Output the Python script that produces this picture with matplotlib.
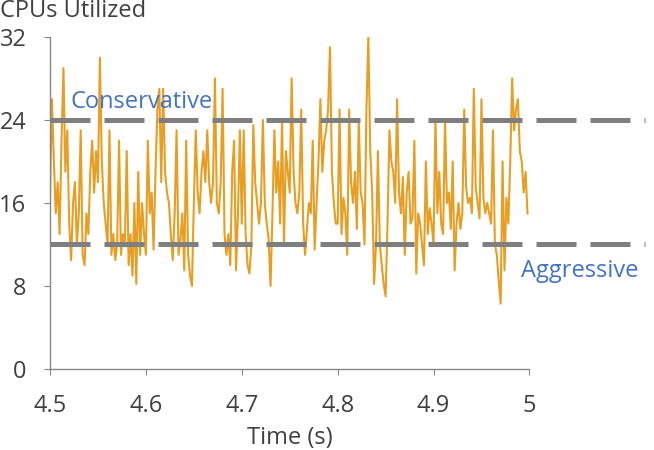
"""CPUs utilized over time with conservative / aggressive thresholds."""
import matplotlib
matplotlib.use("Agg")
import matplotlib.pyplot as plt
import numpy as np

# samples every 2 ms, one list per 0.1 s window
CPUS_450 = [17, 26, 20, 15, 18, 13, 22, 29, 19, 23, 14, 10.5, 16, 18, 12, 15, 23, 11, 10, 15,
            13, 19, 22, 17, 21, 18, 30, 20, 16, 14, 12, 23, 11, 13, 10.5, 12, 22, 11, 13, 12,
            21, 10, 13, 9, 16, 8.2, 19, 11, 16, 13]
CPUS_460 = [11, 22, 15, 17, 11.5, 19, 25, 27, 18, 27, 19, 17, 16, 13, 10.5, 15, 23, 11, 12.5, 15,
            9.5, 22, 11, 9, 8, 16, 23, 17, 15, 19, 21, 18, 23, 18, 16, 18, 28, 16, 15, 18,
            27, 13, 11, 13, 10, 19, 22, 9.5, 15, 23]
CPUS_470 = [14, 23, 13, 10, 9.2, 12, 23.5, 18, 16, 14, 16, 24, 16, 14, 12.5, 8, 15, 23, 17, 20,
            14, 24, 12, 21, 19, 17, 28, 19, 16, 15, 17, 25, 14, 11, 13.5, 16, 15, 22, 11.5, 16,
            20, 26, 19, 22, 23, 25, 31, 19, 16, 14]
CPUS_480 = [14, 25, 13, 16.5, 15, 11, 25, 18, 16, 19, 13.5, 24, 17, 16, 12, 25, 32, 21, 17, 8.2,
            12, 21, 12, 10, 8.2, 7, 14, 23, 20, 19, 16, 26, 17, 15, 18.5, 11, 17, 19, 14, 14.5,
            22, 9.2, 15, 14, 12, 10, 20, 13, 15.5, 14]
CPUS_490 = [12, 24, 15, 19, 14, 13, 24, 16, 17, 13.5, 20, 9.5, 14, 16, 13.5, 15, 25, 17.5, 16, 16.5,
            15, 27, 17.5, 16, 14.5, 26, 16.5, 15, 16, 15, 14, 23, 12, 11, 8.5, 6.3, 20, 9.5, 16.5, 14,
            20, 28, 23, 25, 26, 21, 20, 17, 19, 15]

T_START = 4.5
T_STEP = 0.002
CONSERVATIVE = 24
AGGRESSIVE = 12
X_TICKS = [4.5, 4.6, 4.7, 4.8, 4.9, 5.0]
X_LABELS = ["4.5", "4.6", "4.7", "4.8", "4.9", "5"]
Y_TICKS = [0, 8, 16, 24, 32]

ORANGE = "#E89E22"
GRAY = "#7F7F7F"
BLUE = "#4472C4"
TEXT = "#404040"
FONT_SIZE = 17

plt.rcParams["font.family"] = ["Open Sans", "DejaVu Sans"]

cpus = np.array(CPUS_450 + CPUS_460 + CPUS_470 + CPUS_480 + CPUS_490)
times = T_START + T_STEP * np.arange(len(cpus))

fig = plt.figure(figsize=(6.54, 4.5), dpi=100)
ax = fig.add_axes([0.0765, 0.18, 0.733, 0.738])

ax.plot(times, cpus, color=ORANGE, linewidth=1.5, zorder=2)

# threshold lines run past the right edge of the plot area
for level in (CONSERVATIVE, AGGRESSIVE):
    ax.plot([4.5, 5.121], [level, level], color=GRAY, linewidth=3.6,
            dashes=(8, 2.8), clip_on=False, zorder=3, solid_capstyle="butt")

ax.text(4.521, 25.7, "Conservative", color=BLUE, fontsize=FONT_SIZE, va="center", ha="left")
ax.text(4.991, 9.4, "Aggressive", color=BLUE, fontsize=FONT_SIZE, va="center", ha="left")

ax.set_xlim(4.5, 5.0)
ax.set_ylim(0, 32)
ax.set_xticks(X_TICKS)
ax.set_xticklabels(X_LABELS)
ax.set_yticks(Y_TICKS)
for side in ("top", "right"):
    ax.spines[side].set_visible(False)
for side in ("left", "bottom"):
    ax.spines[side].set_color("#868686")
    ax.spines[side].set_linewidth(1.0)
ax.tick_params(axis="both", direction="out", length=4, color="#868686",
               labelsize=FONT_SIZE, labelcolor=TEXT)
ax.tick_params(axis="x", pad=14)
ax.tick_params(axis="y", pad=13)

fig.text(0.0, 0.976, "CPUs Utilized", fontsize=FONT_SIZE, color=TEXT, ha="left", va="center")
fig.text(0.4427, 0.027, "Time (s)", fontsize=FONT_SIZE, color=TEXT, ha="center", va="center")

fig.savefig("out.png", dpi=100)
plt.close(fig)
